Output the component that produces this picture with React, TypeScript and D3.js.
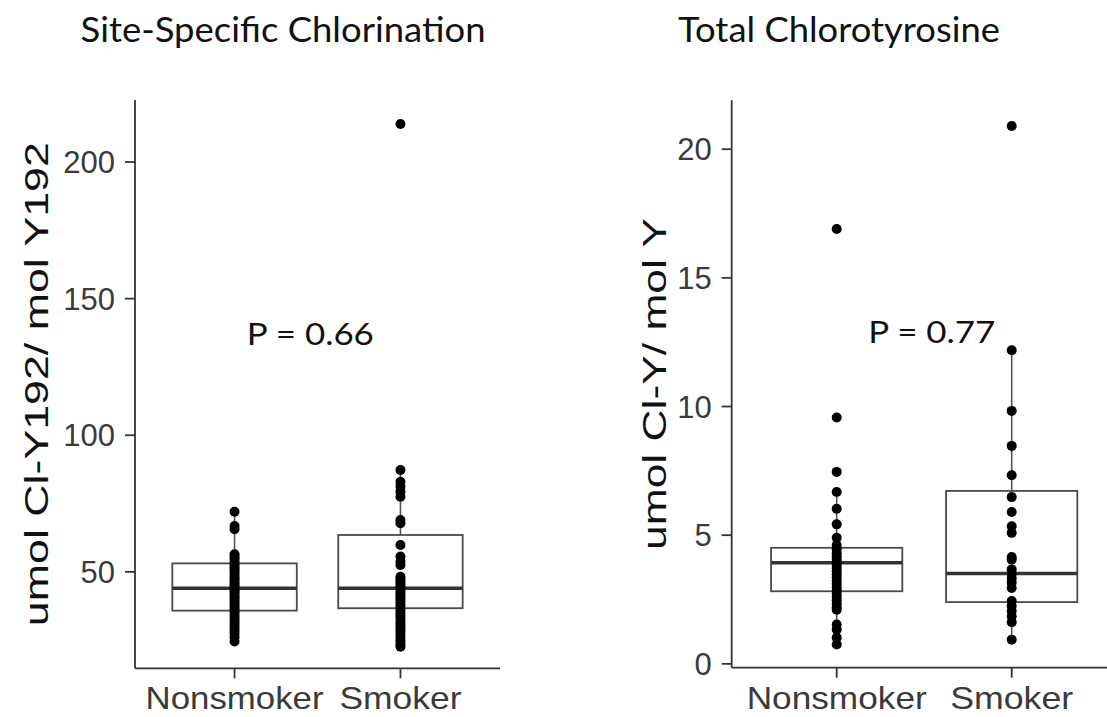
import React from "react";
import * as d3 from "d3";

// Category order on both panels
const groups = ["Nonsmoker", "Smoker"];

// Site-specific chlorination, umol Cl-Y192 / mol Y192
const siteNonsmoker = [
  72.0, 66.8, 65.6, 56.4, 55.5, 54.7, 53.6, 52.8, 51.7, 50.9, 50.0, 49.2, 48.1,
  47.3, 46.4, 45.6, 44.8, 44.0, 43.3, 42.5, 41.6, 40.7, 39.9, 39.0, 38.0, 37.1,
  36.2, 35.3, 34.2, 33.1, 32.0, 30.9, 29.8, 28.6, 27.4, 26.1, 24.5,
];
const siteSmoker = [
  213.9, 87.3, 83.0, 81.2, 79.3, 77.5, 69.0, 67.8, 59.8, 55.6, 53.7, 52.5, 48.2,
  47.3, 46.5, 45.6, 44.7, 43.9, 43.0, 42.1, 41.2, 40.3, 39.4, 38.3, 37.2, 36.1,
  35.0, 33.9, 32.8, 31.6, 30.5, 29.3, 28.2, 27.0, 25.8, 24.6, 23.4, 22.6,
];
// [lower whisker, Q1, median, Q3, upper whisker]
const siteBoxNonsmoker = [24.5, 35.8, 44.0, 53.1, 72.0];
const siteBoxSmoker = [22.6, 36.7, 44.0, 63.5, 87.3];
const siteTicks = [50, 100, 150, 200];

// Total chlorotyrosine, umol Cl-Y / mol Y
const totalNonsmoker = [
  16.9, 9.57, 7.46, 6.68, 6.03, 5.42, 4.9, 4.62, 4.45, 4.3, 4.18, 4.05, 3.95,
  3.85, 3.72, 3.6, 3.48, 3.36, 3.22, 3.1, 2.97, 2.85, 2.72, 2.6, 2.47, 2.33,
  2.2, 2.1, 1.53, 1.33, 1.01, 0.75,
];
const totalSmoker = [
  20.9, 12.19, 9.83, 8.47, 7.33, 6.48, 5.9, 5.35, 5.09, 4.15, 4.05, 3.67, 3.5,
  3.32, 3.15, 2.95, 2.44, 2.25, 2.05, 1.85, 1.62, 0.94,
];
const totalBoxNonsmoker = [0.75, 2.82, 3.93, 4.51, 6.68];
const totalBoxSmoker = [0.94, 2.4, 3.51, 6.72, 12.19];
const totalTicks = [0, 5, 10, 15, 20];

const AXIS = "#333333";
const TICK_TEXT = "#3a3a3a";
const SANS = "'Liberation Sans', Arial, sans-serif";
const TITLE_FONT = "Lato, 'Open Sans', sans-serif";

type PanelProps = {
  title: string;
  titleX: number;
  titleLen: number;
  yLabel: string;
  yLabelX: number;
  yLabelLen: number;
  xRange: [number, number];
  yDomain: [number, number];
  yRange: [number, number];
  ticks: number[];
  groupLabelLens: number[];
  values: number[][];
  boxes: number[][];
  pText: string;
  pPos: [number, number];
};

function Panel(p: PanelProps) {
  const x = d3
    .scaleBand<string>()
    .domain(groups)
    .range(p.xRange)
    .paddingInner(0.25)
    .paddingOuter(0.225);
  const y = d3.scaleLinear().domain(p.yDomain).range(p.yRange);
  const x0 = p.xRange[0];
  const yBottom = p.yRange[0];
  const yTop = p.yRange[1];
  const bw = x.bandwidth();
  const xLin = d3.scaleLinear().domain([0.4, 2.6]).range(p.xRange);

  return (
    <g>
      <text
        x={p.titleX}
        y={42}
        textAnchor="middle"
        fontFamily={TITLE_FONT}
        fontSize={34}
        fill="#111"
        textLength={p.titleLen}
        lengthAdjust="spacingAndGlyphs"
      >
        {p.title}
      </text>

      {/* boxes with whiskers */}
      {groups.map((g, i) => {
        const b = p.boxes[i];
        const cx = (x(g) as number) + bw / 2;
        return (
          <g key={g}>
            <line x1={cx} x2={cx} y1={y(b[3])} y2={y(b[4])} stroke="#555" strokeWidth={1.6} />
            <line x1={cx} x2={cx} y1={y(b[1])} y2={y(b[0])} stroke="#555" strokeWidth={1.6} />
            <rect
              x={x(g)}
              y={y(b[3])}
              width={bw}
              height={y(b[1]) - y(b[3])}
              fill="#fff"
              stroke="#4a4a4a"
              strokeWidth={1.8}
            />
            <line
              x1={x(g)}
              x2={(x(g) as number) + bw}
              y1={y(b[2])}
              y2={y(b[2])}
              stroke="#333"
              strokeWidth={3.4}
            />
          </g>
        );
      })}

      {/* individual measurements */}
      {groups.map((g, i) => {
        const cx = (x(g) as number) + bw / 2;
        return p.values[i].map((v, j) => (
          <circle key={g + j} cx={cx} cy={y(v)} r={5} fill="#000" />
        ));
      })}

      {/* axes */}
      <line x1={x0} x2={x0} y1={yTop} y2={yBottom} stroke={AXIS} strokeWidth={1.8} />
      <line x1={x0} x2={p.xRange[1]} y1={yBottom} y2={yBottom} stroke={AXIS} strokeWidth={1.8} />
      {p.ticks.map((t) => (
        <g key={t}>
          <line x1={x0 - 10} x2={x0} y1={y(t)} y2={y(t)} stroke={AXIS} strokeWidth={1.8} />
          <text
            x={x0 - 20}
            y={y(t)}
            dy="0.36em"
            textAnchor="end"
            fontFamily={SANS}
            fontSize={31}
            fill={TICK_TEXT}
          >
            {t}
          </text>
        </g>
      ))}
      {groups.map((g, i) => {
        const cx = (x(g) as number) + bw / 2;
        return (
          <g key={g}>
            <line x1={cx} x2={cx} y1={yBottom} y2={yBottom + 10} stroke={AXIS} strokeWidth={1.8} />
            <text
              x={cx}
              y={709}
              textAnchor="middle"
              fontFamily={SANS}
              fontSize={32}
              fill={TICK_TEXT}
              textLength={p.groupLabelLens[i]}
              lengthAdjust="spacingAndGlyphs"
            >
              {g}
            </text>
          </g>
        );
      })}

      <text
        transform={`translate(${p.yLabelX},${(yTop + yBottom) / 2}) rotate(-90)`}
        textAnchor="middle"
        fontFamily={SANS}
        fontSize={33}
        fill="#111"
        textLength={p.yLabelLen}
        lengthAdjust="spacingAndGlyphs"
      >
        {p.yLabel}
      </text>

      <text
        x={xLin(p.pPos[0])}
        y={y(p.pPos[1])}
        textAnchor="middle"
        fontFamily={TITLE_FONT}
        fontSize={31}
        fill="#111"
        textLength={127}
        lengthAdjust="spacingAndGlyphs"
      >
        {p.pText}
      </text>
    </g>
  );
}

export default function App() {
  return (
    <svg
      width={1107}
      height={717}
      style={{ position: "absolute", left: 0, top: 0, background: "#fff" }}
    >
      <rect width={1107} height={717} fill="#fff" />
      <Panel
        title="Site-Specific Chlorination"
        titleX={283}
        titleLen={405}
        yLabel="umol Cl-Y192/ mol Y192"
        yLabelX={48}
        yLabelLen={484}
        xRange={[135, 500]}
        yDomain={[14.7, 222.7]}
        yRange={[668.3, 100]}
        ticks={siteTicks}
        groupLabelLens={[178, 122]}
        values={[siteNonsmoker, siteSmoker]}
        boxes={[siteBoxNonsmoker, siteBoxSmoker]}
        pText="P = 0.66"
        pPos={[1.457, 133]}
      />
      <Panel
        title="Total Chlorotyrosine"
        titleX={839}
        titleLen={322}
        yLabel="umol Cl-Y/ mol Y"
        yLabelX={666}
        yLabelLen={332}
        xRange={[731.7, 1116.7]}
        yDomain={[-0.15, 21.9]}
        yRange={[667.7, 100.3]}
        ticks={totalTicks}
        groupLabelLens={[180, 123]}
        values={[totalNonsmoker, totalSmoker]}
        boxes={[totalBoxNonsmoker, totalBoxSmoker]}
        pText="P = 0.77"
        pPos={[1.543, 12.45]}
      />
    </svg>
  );
}
